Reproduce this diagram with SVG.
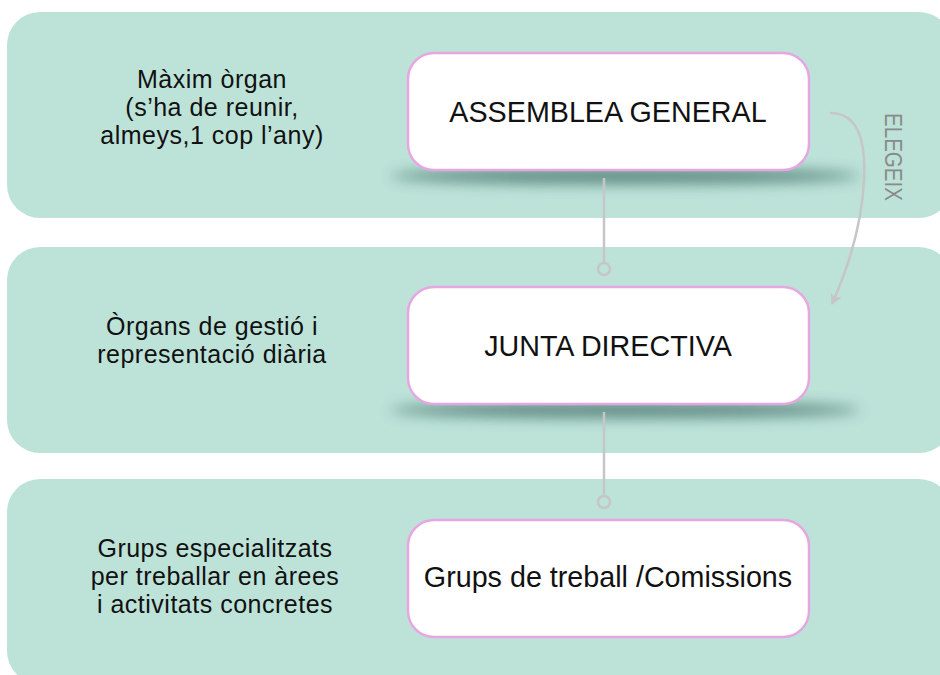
<svg xmlns="http://www.w3.org/2000/svg" width="940" height="675" viewBox="0 0 940 675">
<style>
.band{fill:#bde3d9}
.box{fill:#ffffff;stroke:#e6a6e2;stroke-width:2.5}
.boxt{font-family:"Liberation Sans",Arial,sans-serif;font-size:28.7px;fill:#111;text-anchor:middle}
.side{font-family:"Liberation Sans",Arial,sans-serif;font-size:25px;letter-spacing:0.5px;fill:#111;text-anchor:middle}
.conn{stroke:#c6c6c6;stroke-width:2.5;fill:none}
.lbl{font-family:"Liberation Sans",Arial,sans-serif;font-size:21px;fill:#8a8a8a}
</style>
<defs>
<filter id="blur" x="-20%" y="-100%" width="140%" height="300%"><feGaussianBlur stdDeviation="7"/></filter>
<marker id="arr" markerWidth="14" markerHeight="14" refX="10" refY="6" orient="auto" markerUnits="userSpaceOnUse">
<path d="M0,0 L11,6 L0,12 L3,6 Z" fill="#c6c6c6"/>
</marker>
</defs>
<g id="bands">
<rect class="band" x="7" y="12" width="945" height="206" rx="33"/>
<rect class="band" x="7" y="247" width="945" height="206" rx="33"/>
<rect class="band" x="7" y="479" width="945" height="205" rx="33"/>
</g>
<g id="shadows">
<ellipse cx="625" cy="176" rx="235" ry="8" fill="#3e6b63" opacity="0.75" filter="url(#blur)"/>
<ellipse cx="625" cy="410" rx="235" ry="8" fill="#3e6b63" opacity="0.75" filter="url(#blur)"/>
</g>
<g id="connectors">
<line class="conn" x1="604" y1="178" x2="604" y2="263"/>
<circle class="conn" cx="604" cy="269" r="6"/>
<line class="conn" x1="604" y1="412" x2="604" y2="496"/>
<circle class="conn" cx="604" cy="502" r="6"/>
<path class="conn" d="M830,113 C858,113 866,140 864,180 C862,225 848,268 832,304" marker-end="url(#arr)"/>
<text class="lbl" transform="translate(885,113) rotate(90) scale(0.98,1.15)">ELEGEIX</text>
</g>
<g id="assemblea">
<rect class="box" x="408" y="53" width="401" height="117" rx="26"/>
<text class="boxt" x="608" y="122">ASSEMBLEA GENERAL</text>
</g>
<g id="junta">
<rect class="box" x="408" y="287" width="401" height="117" rx="26"/>
<text class="boxt" x="608" y="356">JUNTA DIRECTIVA</text>
</g>
<g id="grups">
<rect class="box" x="408" y="520" width="401" height="117" rx="26"/>
<text class="boxt" x="608" y="587">Grups de treball /Comissions</text>
</g>
<g id="desc1">
<text class="side" x="212" y="87.5">Màxim òrgan</text>
<text class="side" x="212" y="115.5">(s’ha de reunir,</text>
<text class="side" x="212" y="143.5">almeys,1 cop l’any)</text>
</g>
<g id="desc2">
<text class="side" x="212" y="335">Òrgans de gestió i</text>
<text class="side" x="212" y="363">representació diària</text>
</g>
<g id="desc3">
<text class="side" x="215" y="557">Grups especialitzats</text>
<text class="side" x="215" y="585">per treballar en àrees</text>
<text class="side" x="215" y="613">i activitats concretes</text>
</g>
</svg>
